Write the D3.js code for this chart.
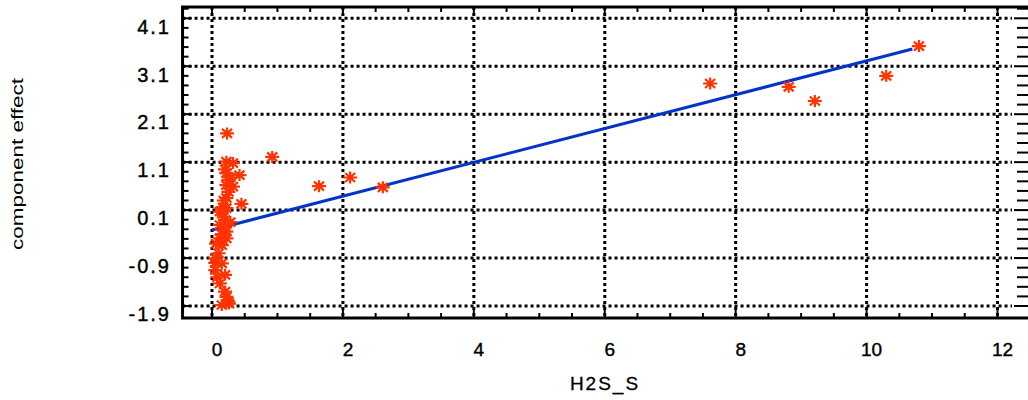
<!DOCTYPE html>
<html><head><meta charset="utf-8">
<script src="https://cdn.jsdelivr.net/npm/d3@7"></script>
<style>body{margin:0;background:#fff}svg{display:block}</style>
</head><body>
<svg id="c" width="1028" height="400"></svg>
<script>
// Data
const h2sX = [0.23,0.22,0.32,0.42,0.22,0.25,0.32,0.22,0.25,0.22,0.45,0.17,0.12,0.15,0.22,0.20,0.12,0.22,0.12,0.22,0.15,0.20,0.15,0.05,0.15,0.05,0.20,0.12,0.22,0.15,0.25,0.05,0.10,0.18,0.20,0.28,0.18,0.08,0.20,0.28,0.06,0.26,
  0.92,1.635,2.11,2.61,7.61,8.81,9.21,10.30,10.80];
const effectY = [1.70,1.11,1.08,0.83,0.87,0.73,0.59,0.62,0.48,0.35,0.23,0.16,0.07,0.07,0.14,-0.11,-0.21,-0.35,-0.49,-0.49,-0.63,-0.25,-0.40,-0.905,-1.01,-1.15,-1.25,-1.43,-1.71,-1.88,-1.81,-1.0,-0.8,0.30,0.95,0.78,-0.05,-1.30,-1.60,-0.15,-0.60,-1.85,
  1.21,0.60,0.78,0.575,2.74,2.67,2.375,2.90,3.52];
const fitX = [0, 10.7];
const fitY = [-0.315, 3.46];
const xTicks = [0,2,4,6,8,10,12];
const yTicks = [-1.9,-0.9,0.1,1.1,2.1,3.1,4.1];
const yTickLabels = ["-1.9","-0.9","0.1","1.1","2.1","3.1","4.1"];
const xTitle = "H2S_S";
const yTitle = "component effect";

const svg = d3.select("#c");
const x = d3.scaleLinear().domain([0,12]).range([212,997.5]);
const y = d3.scaleLinear().domain([-1.9,4.1]).range([306,18.3]);
const fL = x(-0.45), fR = 1030, fT = 7, fB = 318;
const font = "'Liberation Sans', Arial, sans-serif";

// grid
const g = svg.append("g");
g.selectAll(".vg").data(xTicks).join("line")
  .attr("x1",d=>x(d)).attr("x2",d=>x(d)).attr("y1",fT).attr("y2",fB)
  .attr("stroke","#000").attr("stroke-width",3).attr("stroke-dasharray","3,3");
g.selectAll(".hg").data(yTicks).join("line")
  .attr("y1",d=>y(d)).attr("y2",d=>y(d)).attr("x1",fL).attr("x2",1012)
  .attr("stroke","#000").attr("stroke-width",3).attr("stroke-dasharray","3,3");

// minor/major ticks
const xMinor = d3.range(0, 12.01, 0.5);
const yMinor = d3.range(-1.9, 4.35, 0.2);
const tk = svg.append("g").attr("stroke","#000").attr("stroke-width",2);
xMinor.forEach(v=>{
  const L = Math.abs(v-Math.round(v/2)*2)<1e-6 ? 9 : 5;
  tk.append("line").attr("x1",x(v)).attr("x2",x(v)).attr("y1",fB).attr("y2",fB-L);
  tk.append("line").attr("x1",x(v)).attr("x2",x(v)).attr("y1",fT).attr("y2",fT+L);
});
yMinor.forEach((v,i)=>{
  const L = i%5===0 ? 9 : 6;
  tk.append("line").attr("y1",y(v)).attr("y2",y(v)).attr("x1",fL).attr("x2",fL+L);
  tk.append("line").attr("y1",y(v)).attr("y2",y(v)).attr("x1",fR).attr("x2",fR-L-7);
});

// frame
svg.append("rect").attr("x",fL).attr("y",fT).attr("width",fR-fL).attr("height",fB-fT)
  .attr("fill","none").attr("stroke","#000").attr("stroke-width",3);

// fit line
svg.append("path").datum(d3.zip(fitX,fitY))
  .attr("d", d3.line().x(d=>x(d[0])).y(d=>y(d[1])))
  .attr("stroke","rgb(0,51,204)").attr("stroke-width",3).attr("fill","none");

// star points
const pts = d3.zip(h2sX, effectY);
svg.append("g").selectAll("path").data(pts).join("path")
  .attr("transform",d=>`translate(${x(d[0])},${y(d[1])})`)
  .attr("d","M-7,0L7,0M0,-6L0,6M-5,-4.5L5,4.5M-5,4.5L5,-4.5")
  .attr("stroke","rgb(255,51,0)").attr("stroke-width",2.2).attr("fill","none");

// tick labels
svg.append("g").selectAll("text").data(yTicks).join("text")
  .attr("x",171).attr("y",d=>y(d)+10).attr("text-anchor","end").attr("dominant-baseline","middle")
  .attr("font-family",font).attr("font-size",20).attr("letter-spacing",2)
  .attr("stroke","#000").attr("stroke-width",0.4)
  .text((d,i)=>yTickLabels[i]);
svg.append("g").selectAll("text").data(xTicks).join("text")
  .attr("x",d=>x(d)+5).attr("y",351).attr("text-anchor","middle").attr("dominant-baseline","middle")
  .attr("font-family",font).attr("font-size",19).attr("stroke","#000").attr("stroke-width",0.4).text(d=>d);

// titles
svg.append("text").attr("x",605).attr("y",385).attr("text-anchor","middle").attr("dominant-baseline","middle")
  .attr("font-family",font).attr("font-size",19).attr("letter-spacing",2).attr("stroke","#000").attr("stroke-width",0.3).text(xTitle);
svg.append("text").attr("transform","translate(19,164) rotate(-90)").attr("text-anchor","middle").attr("dominant-baseline","middle")
  .attr("font-family",font).attr("font-size",17).attr("textLength",172).attr("lengthAdjust","spacingAndGlyphs").text(yTitle);
</script>
</body></html>
